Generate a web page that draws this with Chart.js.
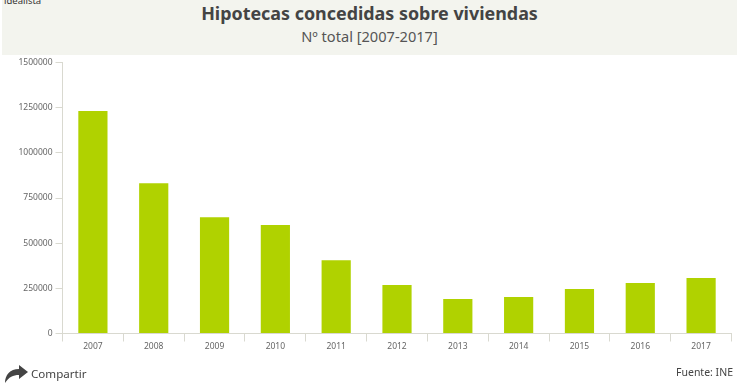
<!DOCTYPE html>
<html>
<head>
<meta charset="utf-8">
<script src="https://cdn.jsdelivr.net/npm/chart.js@4"></script>
<style>
body { margin: 0; background: #fff; width: 740px; height: 389px; overflow: hidden; position: relative; font-family: "Noto Sans", sans-serif; }
#chart { position: absolute; left: 0; top: 0; }
.header { position: absolute; left: 2px; top: 0; width: 735px; height: 55px; background: #f3f4ee; }
.title { position: absolute; left: 2px; width: 735px; top: 0; text-align: center; font-size: 17.9px; font-weight: 700; color: #444; line-height: 26px; }
.subtitle { position: absolute; left: 2px; width: 735px; top: 25px; text-align: center; font-size: 14.6px; color: #555; line-height: 22px; }
.logo { position: absolute; left: 4px; top: -4px; font-size: 9.5px; line-height: 10px; color: #333; }
.share { position: absolute; left: 31px; top: 365px; font-size: 11.6px; line-height: 18px; color: #444; }
.source { position: absolute; right: 7px; top: 363px; font-size: 10.5px; line-height: 18px; color: #444; }
.arrow { position: absolute; left: 4px; top: 365px; }
</style>
</head>
<body>
<div class="header"></div>
<div class="logo">idealista</div>
<div class="title">Hipotecas concedidas sobre viviendas</div>
<div class="subtitle">Nº total [2007-2017]</div>
<canvas id="chart" width="740" height="389"></canvas>
<svg class="arrow" width="25" height="18" viewBox="0 0 25 18"><path d="M1 18 C1 10 6 4 15 4 L15 0 L24 7 L15 14 L15 10 C9 10 5 12 1 18 Z" fill="#444"/></svg>
<div class="share">Compartir</div>
<div class="source">Fuente: INE</div>
<script>
const years = ['2007', '2008', '2009', '2010', '2011', '2012', '2013', '2014', '2015', '2016', '2017'];
const hipotecas = [1232000, 832000, 644000, 600000, 406000, 269000, 191000, 202000, 246000, 280000, 307000];
const axisColor = '#d9d9d0';

new Chart(document.getElementById('chart'), {
    type: 'bar',
    data: {
        labels: years,
        datasets: [{
            data: hipotecas,
            backgroundColor: '#b0d200',
            barPercentage: 0.48,
            categoryPercentage: 1,
        }]
    },
    options: {
        responsive: false,
        animation: false,
        layout: { padding: { top: 62.5, right: 8.5, left: 0, bottom: 0 } },
        plugins: { legend: { display: false }, tooltip: { enabled: false } },
        scales: {
            x: {
                afterFit: (s) => { s.height = 55.5; },
                border: { color: axisColor },
                grid: { drawOnChartArea: false, color: axisColor, tickLength: 8 },
                ticks: { color: '#666', font: { family: 'Noto Sans', size: 8.5 }, padding: 0, maxRotation: 0 },
            },
            y: {
                min: 0,
                max: 1500000,
                afterFit: (s) => { s.width = 62.5; },
                border: { color: axisColor },
                grid: { drawOnChartArea: false, color: axisColor, tickLength: 7 },
                ticks: { stepSize: 250000, color: '#666', font: { family: 'Noto Sans', size: 8.5 }, padding: 3, callback: (v) => String(v) },
            }
        }
    }
});
</script>
</body>
</html>
